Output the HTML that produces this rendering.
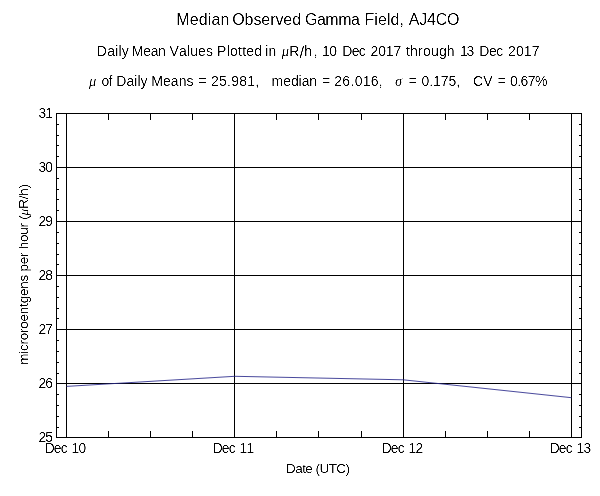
<!DOCTYPE html>
<html><head><meta charset="utf-8"><title>Median Observed Gamma Field</title>
<style>
html,body{margin:0;padding:0;background:#fff;}
body{width:600px;height:496px;overflow:hidden;}
svg{display:block;}
text{font-family:"Liberation Sans",sans-serif;fill:#000;}
.g{font-family:"Liberation Serif",serif;font-style:italic;}
</style></head><body>
<svg width="600" height="496" viewBox="0 0 600 496">
<defs><filter id="th" x="0" y="0" width="600" height="496" filterUnits="userSpaceOnUse" color-interpolation-filters="sRGB"><feComponentTransfer><feFuncA type="linear" slope="2.3" intercept="-0.78"/></feComponentTransfer></filter></defs>

<rect x="0" y="0" width="600" height="496" fill="#fff"/>
<g fill="#000" shape-rendering="crispEdges">
<rect x="56" y="113" width="526" height="1"/>
<rect x="56" y="437" width="526" height="1"/>
<rect x="56" y="113" width="1" height="325"/>
<rect x="581" y="113" width="1" height="325"/>
<rect x="56" y="383" width="526" height="1"/>
<rect x="56" y="329" width="526" height="1"/>
<rect x="56" y="275" width="526" height="1"/>
<rect x="56" y="221" width="526" height="1"/>
<rect x="56" y="167" width="526" height="1"/>
<rect x="66" y="113" width="1" height="325"/>
<rect x="234" y="113" width="1" height="325"/>
<rect x="403" y="113" width="1" height="325"/>
<rect x="571" y="113" width="1" height="325"/>
<rect x="66" y="113" width="1" height="7"/>
<rect x="66" y="431" width="1" height="7"/>
<rect x="108" y="113" width="1" height="7"/>
<rect x="108" y="431" width="1" height="7"/>
<rect x="150" y="113" width="1" height="7"/>
<rect x="150" y="431" width="1" height="7"/>
<rect x="192" y="113" width="1" height="7"/>
<rect x="192" y="431" width="1" height="7"/>
<rect x="234" y="113" width="1" height="7"/>
<rect x="234" y="431" width="1" height="7"/>
<rect x="276" y="113" width="1" height="7"/>
<rect x="276" y="431" width="1" height="7"/>
<rect x="318" y="113" width="1" height="7"/>
<rect x="318" y="431" width="1" height="7"/>
<rect x="361" y="113" width="1" height="7"/>
<rect x="361" y="431" width="1" height="7"/>
<rect x="403" y="113" width="1" height="7"/>
<rect x="403" y="431" width="1" height="7"/>
<rect x="445" y="113" width="1" height="7"/>
<rect x="445" y="431" width="1" height="7"/>
<rect x="487" y="113" width="1" height="7"/>
<rect x="487" y="431" width="1" height="7"/>
<rect x="529" y="113" width="1" height="7"/>
<rect x="529" y="431" width="1" height="7"/>
<rect x="571" y="113" width="1" height="7"/>
<rect x="571" y="431" width="1" height="7"/>
<rect x="56" y="437" width="3" height="1"/>
<rect x="579" y="437" width="3" height="1"/>
<rect x="56" y="427" width="3" height="1"/>
<rect x="579" y="427" width="3" height="1"/>
<rect x="56" y="416" width="3" height="1"/>
<rect x="579" y="416" width="3" height="1"/>
<rect x="56" y="405" width="3" height="1"/>
<rect x="579" y="405" width="3" height="1"/>
<rect x="56" y="394" width="3" height="1"/>
<rect x="579" y="394" width="3" height="1"/>
<rect x="56" y="383" width="3" height="1"/>
<rect x="579" y="383" width="3" height="1"/>
<rect x="56" y="373" width="3" height="1"/>
<rect x="579" y="373" width="3" height="1"/>
<rect x="56" y="362" width="3" height="1"/>
<rect x="579" y="362" width="3" height="1"/>
<rect x="56" y="351" width="3" height="1"/>
<rect x="579" y="351" width="3" height="1"/>
<rect x="56" y="340" width="3" height="1"/>
<rect x="579" y="340" width="3" height="1"/>
<rect x="56" y="329" width="3" height="1"/>
<rect x="579" y="329" width="3" height="1"/>
<rect x="56" y="318" width="3" height="1"/>
<rect x="579" y="318" width="3" height="1"/>
<rect x="56" y="308" width="3" height="1"/>
<rect x="579" y="308" width="3" height="1"/>
<rect x="56" y="297" width="3" height="1"/>
<rect x="579" y="297" width="3" height="1"/>
<rect x="56" y="286" width="3" height="1"/>
<rect x="579" y="286" width="3" height="1"/>
<rect x="56" y="275" width="3" height="1"/>
<rect x="579" y="275" width="3" height="1"/>
<rect x="56" y="264" width="3" height="1"/>
<rect x="579" y="264" width="3" height="1"/>
<rect x="56" y="254" width="3" height="1"/>
<rect x="579" y="254" width="3" height="1"/>
<rect x="56" y="243" width="3" height="1"/>
<rect x="579" y="243" width="3" height="1"/>
<rect x="56" y="232" width="3" height="1"/>
<rect x="579" y="232" width="3" height="1"/>
<rect x="56" y="221" width="3" height="1"/>
<rect x="579" y="221" width="3" height="1"/>
<rect x="56" y="210" width="3" height="1"/>
<rect x="579" y="210" width="3" height="1"/>
<rect x="56" y="199" width="3" height="1"/>
<rect x="579" y="199" width="3" height="1"/>
<rect x="56" y="189" width="3" height="1"/>
<rect x="579" y="189" width="3" height="1"/>
<rect x="56" y="178" width="3" height="1"/>
<rect x="579" y="178" width="3" height="1"/>
<rect x="56" y="167" width="3" height="1"/>
<rect x="579" y="167" width="3" height="1"/>
<rect x="56" y="156" width="3" height="1"/>
<rect x="579" y="156" width="3" height="1"/>
<rect x="56" y="145" width="3" height="1"/>
<rect x="579" y="145" width="3" height="1"/>
<rect x="56" y="135" width="3" height="1"/>
<rect x="579" y="135" width="3" height="1"/>
<rect x="56" y="124" width="3" height="1"/>
<rect x="579" y="124" width="3" height="1"/>
<rect x="56" y="113" width="3" height="1"/>
<rect x="579" y="113" width="3" height="1"/>
</g>
<polyline fill="none" stroke="#28288a" stroke-width="0.85" points="66.5,386.4 234.8,376.3 403.2,379.8 571.5,397.7"/>
<g class="t" filter="url(#th)">
<text x="53" y="441.7" text-anchor="end" font-size="13.8" textLength="14.6">25</text>
<text x="53" y="387.7" text-anchor="end" font-size="13.8" textLength="14.6">26</text>
<text x="53" y="333.7" text-anchor="end" font-size="13.8" textLength="14.6">27</text>
<text x="53" y="279.7" text-anchor="end" font-size="13.8" textLength="14.6">28</text>
<text x="53" y="225.7" text-anchor="end" font-size="13.8" textLength="14.6">29</text>
<text x="53" y="171.7" text-anchor="end" font-size="13.8" textLength="14.6">30</text>
<text x="53" y="117.7" text-anchor="end" font-size="13.8" textLength="14.6">31</text>
<text x="44.67 53.81 60.66 62.66 71.4 78.4" y="453" font-size="13.8">Dec 10</text>
<text x="212.67 221.81 228.66 230.66 239.4 246.4" y="453" font-size="13.8">Dec 11</text>
<text x="381.67 390.81 397.66 399.66 408.4 415.4" y="453" font-size="13.8">Dec 12</text>
<text x="549.67 558.81 565.66 567.66 576.4 583.4" y="453" font-size="13.8">Dec 13</text>
<text x="318" y="472.6" text-anchor="middle" font-size="13.5" textLength="64">Date (UTC)</text>
<text transform="translate(27.8,274.4) rotate(-90)" text-anchor="middle" font-size="13.5" textLength="180.7">microroentgens per hour (<tspan class="g">μ</tspan>R/h)</text>
<text x="176.19 189.65 198.68 207.72 211.41 220.44 222.44 232.24 244.6 253.42 261.34 270.15 275.4 283.32 292.13 294.13 304.95 316.93 325.37 338.23 351.1 353.1 364.44 374.29 377.92 386.89 390.52 399.49 401.49 408.72 419.2 427 435.71 447.07" y="24.7" font-size="16">Median Observed Gamma Field, AJ4CO</text>
<text x="96.85 107.16 115.15 118.46 121.78 123.78 131.85 143.19 150.66 158.12 160.12 169.44 178.93 186.87 190.13 198.07 206.01 208.01 217.1 226.68 230.04 238.07 242.2 246.34 254.37 256.37 265.31 268.62 270.62 281.84 289.2 299.42 304.33 313.76 315.76 321.93 329.26 331.26 342.25 351.72 358.87 360.87 370.55 378.17 385.79 393.42 395.42 406.04 410.12 418.09 422.95 430.92 438.9 446.87 448.87 459.93 466.58 468.58 479.35 489.02 496.37 498.37 508.05 515.92 523.79 531.67" y="55.8 55.8 55.8 55.8 55.8 55.8 55.8 55.8 55.8 55.8 55.8 55.8 55.8 55.8 55.8 55.8 55.8 55.8 55.8 55.8 55.8 55.8 55.8 55.8 55.8 55.8 55.8 55.8 55.8 55.8 55.8 58.1 55.8 55.8 55.8 55.8 55.8 55.8 55.8 55.8 55.8 55.8 55.8 55.8 55.8 55.8 55.8 55.8 55.8 55.8 55.8 55.8 55.8 55.8 55.8 55.8 55.8 55.8 55.8 55.8 55.8 55.8 55.8 55.8 55.8 55.8" font-size="14">Daily Mean Values Plotted in <tspan class="g" font-size="14.56">μ</tspan>R<tspan font-size="16.8">/</tspan>h, 10 Dec 2017 through 13 Dec 2017</text>
<text x="89.09 91.09 101.41 108.59 110.59 116.35 126.48 134.28 137.4 140.53 142.53 151.35 163.05 170.87 178.69 186.51 188.51 198.42 200.42 211.05 219.08 227.12 231.26 239.3 247.33 255.37 257.37 271.57 283.17 290.89 298.61 301.65 309.37 311.37 321.92 323.92 334.3 342.37 350.45 354.63 362.71 370.79 378.87 380.87 395.09 397.09 408.79 410.79 421.45 429.22 433.08 440.84 448.61 456.37 458.37 473.04 483.22 485.22 497.67 499.67 509.95 517.2 520.55 527.8 535.05" y="86" font-size="14"><tspan class="g" font-size="14.56">μ</tspan> of Daily Means = 25.981, median = 26.016, <tspan class="g" font-size="14.56">σ</tspan> = 0.175, CV = 0.67%</text>
</g>
</svg>
</body></html>
